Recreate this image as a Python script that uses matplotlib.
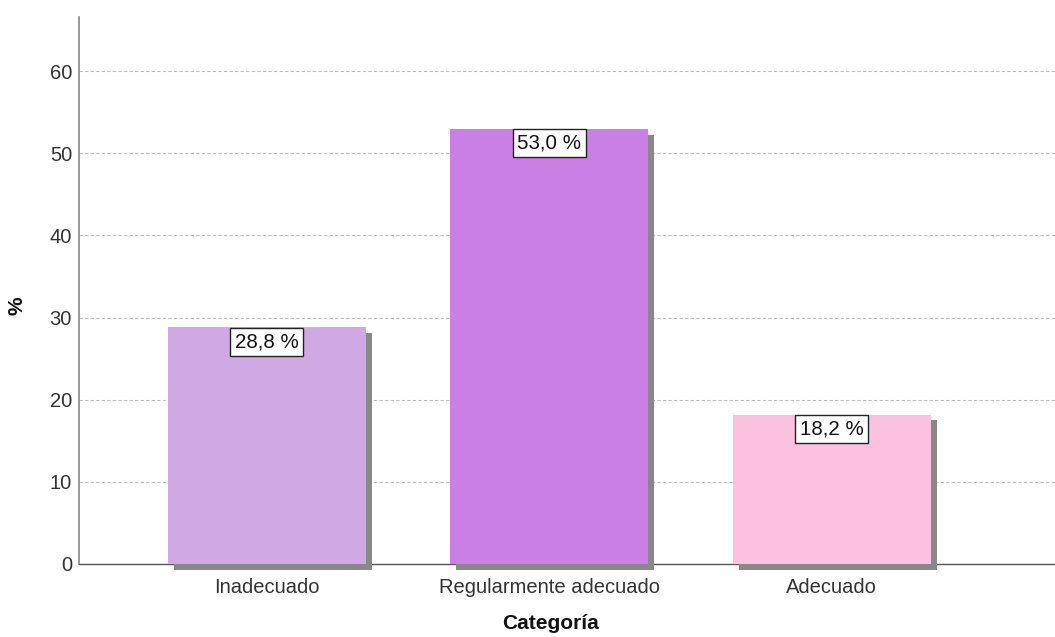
import matplotlib
matplotlib.use("Agg")
import matplotlib.pyplot as plt
import matplotlib.patheffects as pe

categorias = ["Inadecuado", "Regularmente adecuado", "Adecuado"]
porcentajes = [28.8, 53.0, 18.2]
colores = ["#D0A8E4", "#C97FE3", "#FDC1E0"]
yticks = [0, 10, 20, 30, 40, 50, 60]

plt.rcParams["font.family"] = ["Liberation Sans", "DejaVu Sans"]

fig = plt.figure(figsize=(10.55, 6.37), dpi=100)
ax = fig.add_axes([0.0749, 0.1146, 0.9251, 0.8587])

x = list(range(len(categorias)))
sombra = [pe.SimplePatchShadow(offset=(4.3, -4.3), shadow_rgbFace="#888888", alpha=1.0), pe.Normal()]
barras = ax.bar(x, porcentajes, width=0.70, color=colores, zorder=3, clip_on=False)
for b in barras:
    b.set_path_effects(sombra)

# etiquetas de valor en caja blanca pegada al borde superior de la barra
for xi, v in zip(x, porcentajes):
    ax.annotate(f"{v:.1f} %".replace(".", ","), xy=(xi, v), xytext=(0, -3.6),
                textcoords="offset points", ha="center", va="top", fontsize=14.8,
                color="#111111", zorder=5,
                bbox=dict(boxstyle="square,pad=0.22", fc="white", ec="#222222", lw=1.0))

ax.set_xlim(-0.665, 2.79)
ax.set_ylim(0, 66.6)
ax.set_yticks(yticks)
ax.set_xticks(x)
ax.set_xticklabels(categorias)
ax.tick_params(axis="both", length=0, labelsize=14.5, colors="#333333")
ax.tick_params(axis="x", pad=10)
ax.tick_params(axis="y", pad=5)

ax.yaxis.grid(True, linestyle=(0, (3, 2)), color="#bcbcbc", lw=0.8, zorder=0)
ax.set_axisbelow(True)

for lado in ["top", "right"]:
    ax.spines[lado].set_visible(False)
ax.spines["left"].set_color("#888888")
ax.spines["left"].set_linewidth(1.2)
ax.spines["bottom"].set_color("#555555")
ax.spines["bottom"].set_linewidth(1.0)

ax.set_xlabel("Categoría", fontsize=15, fontweight="bold", color="#111111")
ax.set_ylabel("%", fontsize=15, fontweight="bold", color="#111111")
ax.xaxis.set_label_coords(0.4826, -0.092)
ax.yaxis.set_label_coords(-0.054, 0.472)

fig.savefig("out.png", dpi=100)
